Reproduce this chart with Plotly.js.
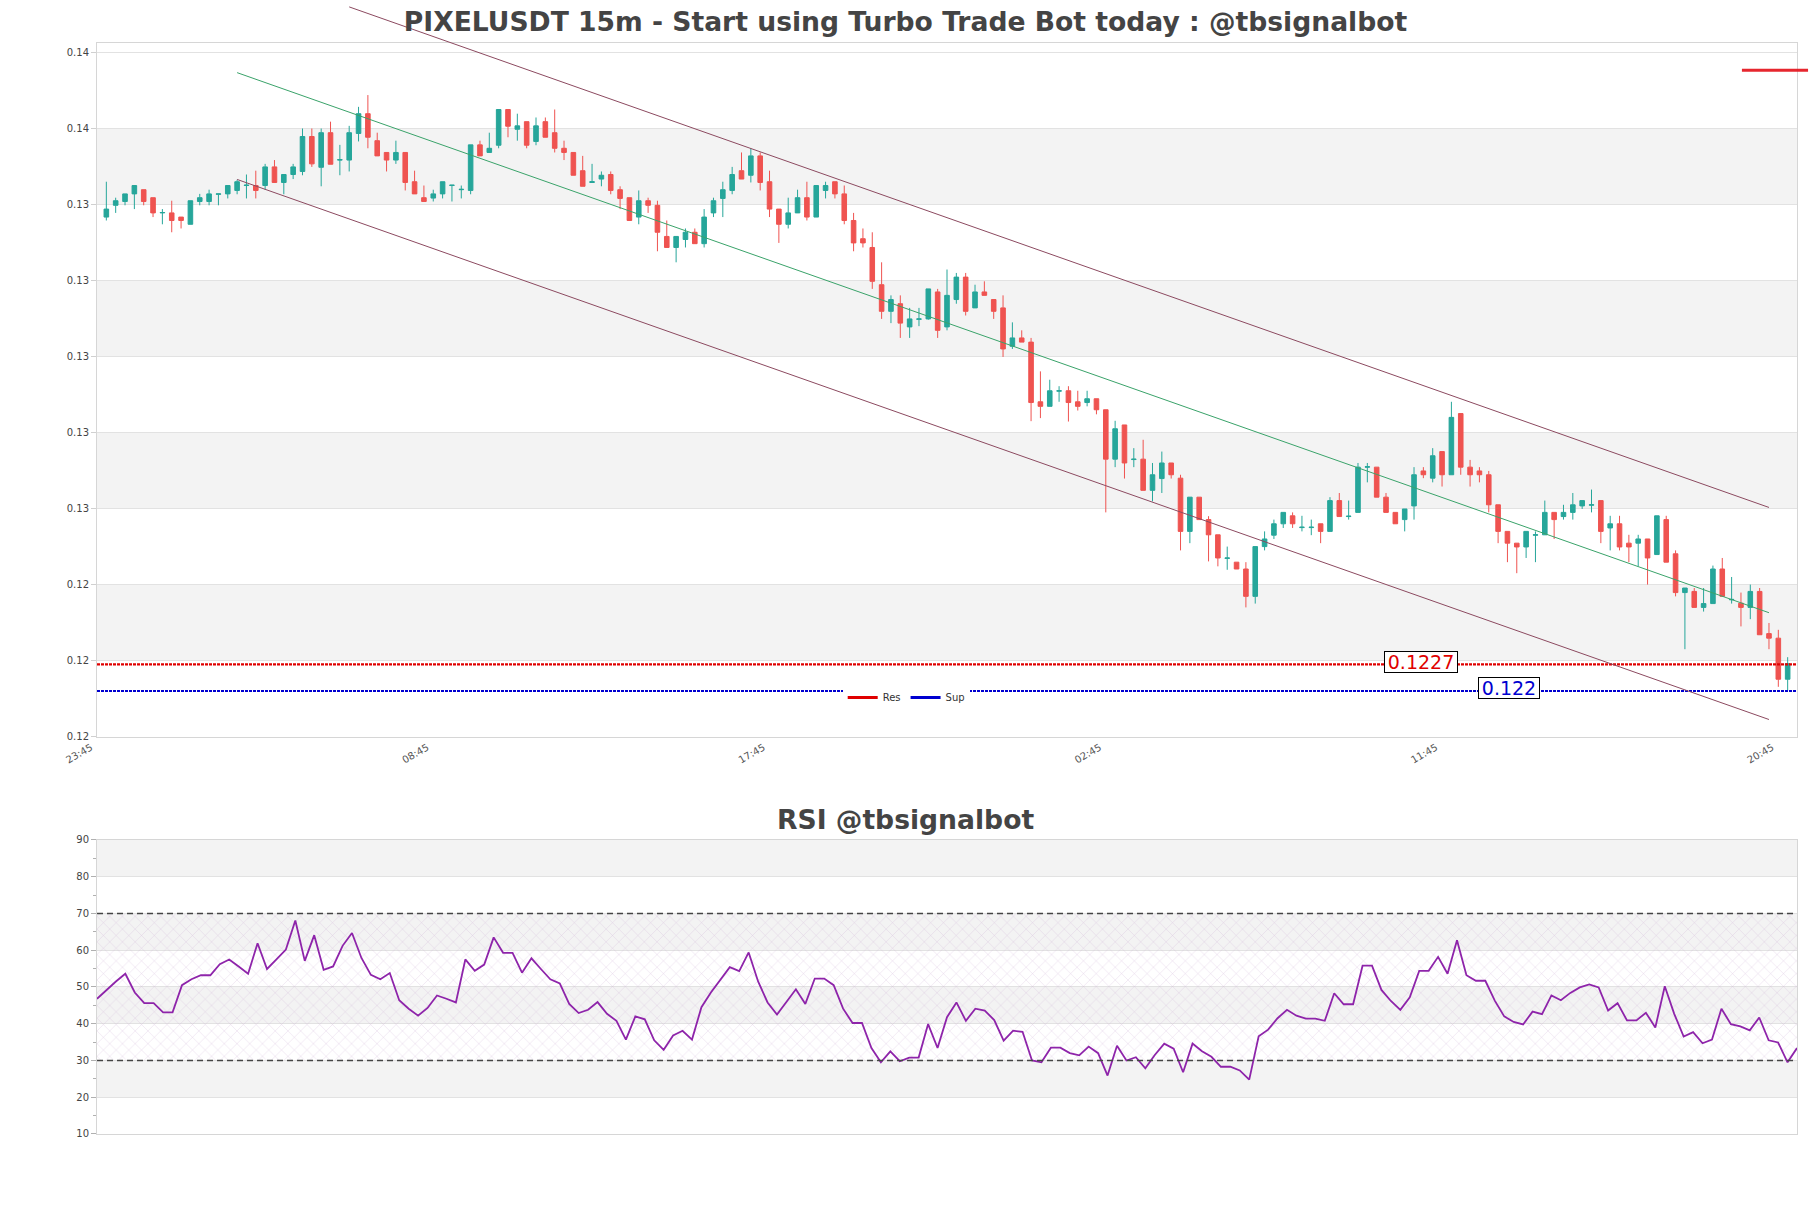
<!DOCTYPE html>
<html><head><meta charset="utf-8">
<script src="https://cdn.plot.ly/plotly-3.0.1.min.js"></script>
<style>html,body{margin:0;padding:0;background:#fff;}#chart{width:1811px;height:1208px;}</style>
</head><body><div id="chart"></div>
<script>
// ---------------- data ----------------
const START_UTC = Date.UTC(2024, 8, 10, 0, 0);   // first candle 00:00
const STEP_MIN = 15;

const openP = [
0.13447,0.13478,0.13488,0.13508,0.13519,0.13498,0.13458,0.13458,0.13447,0.13428,
0.13488,0.13488,0.13507,0.13508,0.13517,0.13530,0.13530,0.13530,0.13579,0.13538,
0.13559,0.13567,0.13659,0.13578,0.13669,0.13597,0.13597,0.13667,0.13719,0.13648,
0.13617,0.13597,0.13617,0.13540,0.13498,0.13497,0.13508,0.13530,0.13519,0.13517,
0.13637,0.13617,0.13636,0.13730,0.13678,0.13698,0.13646,0.13698,0.13669,0.13628,
0.13617,0.13569,0.13538,0.13547,0.13559,0.13519,0.13498,0.13447,0.13490,0.13478,
0.13396,0.13367,0.13388,0.13407,0.13377,0.13458,0.13496,0.13517,0.13569,0.13557,
0.13608,0.13540,0.13468,0.13428,0.13458,0.13498,0.13447,0.13517,0.13540,0.13508,
0.13438,0.13390,0.13367,0.13269,0.13199,0.13219,0.13158,0.13178,0.13179,0.13250,
0.13158,0.13230,0.13289,0.13208,0.13250,0.13230,0.13208,0.13107,0.13129,0.13118,
0.12961,0.12949,0.12989,0.12990,0.12961,0.12959,0.12969,0.12940,0.12810,0.12900,
0.12809,0.12810,0.12728,0.12759,0.12800,0.12760,0.12620,0.12710,0.12651,0.12611,
0.12549,0.12539,0.12521,0.12449,0.12580,0.12610,0.12640,0.12661,0.12630,0.12630,
0.12640,0.12620,0.12701,0.12659,0.12670,0.12789,0.12789,0.12710,0.12670,0.12651,
0.12687,0.12779,0.12760,0.12830,0.12769,0.12930,0.12789,0.12779,0.12769,0.12690,
0.12620,0.12589,0.12579,0.12610,0.12611,0.12670,0.12659,0.12670,0.12687,0.12689,
0.12701,0.12629,0.12640,0.12589,0.12589,0.12600,0.12559,0.12651,0.12561,0.12459,
0.12462,0.12420,0.12430,0.12521,0.12440,0.12431,0.12420,0.12462,0.12351,0.12339,
0.12231];
const highP = [
0.13540,0.13498,0.13508,0.13530,0.13519,0.13498,0.13468,0.13490,0.13447,0.13490,
0.13508,0.13519,0.13508,0.13530,0.13545,0.13559,0.13569,0.13587,0.13597,0.13559,
0.13587,0.13680,0.13680,0.13680,0.13698,0.13637,0.13687,0.13737,0.13768,0.13669,
0.13617,0.13648,0.13617,0.13569,0.13530,0.13519,0.13540,0.13531,0.13530,0.13637,
0.13648,0.13669,0.13730,0.13730,0.13719,0.13698,0.13709,0.13709,0.13730,0.13648,
0.13617,0.13608,0.13587,0.13567,0.13567,0.13528,0.13498,0.13517,0.13498,0.13490,
0.13438,0.13396,0.13417,0.13417,0.13468,0.13498,0.13540,0.13579,0.13617,0.13628,
0.13617,0.13569,0.13468,0.13498,0.13519,0.13540,0.13530,0.13540,0.13540,0.13530,
0.13458,0.13417,0.13407,0.13328,0.13241,0.13241,0.13208,0.13208,0.13258,0.13258,
0.13309,0.13300,0.13300,0.13269,0.13278,0.13230,0.13241,0.13170,0.13149,0.13129,
0.13041,0.13019,0.13002,0.13002,0.12990,0.12990,0.12969,0.12940,0.12911,0.12900,
0.12839,0.12861,0.12800,0.12830,0.12800,0.12769,0.12710,0.12710,0.12660,0.12611,
0.12580,0.12539,0.12539,0.12580,0.12620,0.12651,0.12670,0.12670,0.12661,0.12651,
0.12640,0.12710,0.12721,0.12701,0.12800,0.12800,0.12789,0.12721,0.12670,0.12679,
0.12789,0.12789,0.12839,0.12830,0.12961,0.12930,0.12808,0.12789,0.12779,0.12690,
0.12620,0.12589,0.12620,0.12620,0.12701,0.12670,0.12690,0.12721,0.12701,0.12730,
0.12701,0.12661,0.12661,0.12611,0.12611,0.12600,0.12661,0.12661,0.12570,0.12471,
0.12471,0.12471,0.12530,0.12550,0.12500,0.12459,0.12480,0.12471,0.12379,0.12361,
0.12289];
const lowP = [
0.13438,0.13458,0.13478,0.13468,0.13478,0.13447,0.13428,0.13407,0.13417,0.13428,
0.13478,0.13478,0.13478,0.13496,0.13507,0.13496,0.13496,0.13519,0.13538,0.13507,
0.13547,0.13557,0.13579,0.13528,0.13586,0.13557,0.13567,0.13646,0.13628,0.13608,
0.13567,0.13587,0.13517,0.13508,0.13488,0.13488,0.13496,0.13488,0.13496,0.13507,
0.13608,0.13617,0.13628,0.13657,0.13648,0.13628,0.13636,0.13657,0.13617,0.13597,
0.13557,0.13528,0.13538,0.13528,0.13507,0.13468,0.13438,0.13428,0.13458,0.13357,
0.13367,0.13328,0.13367,0.13377,0.13367,0.13447,0.13447,0.13507,0.13547,0.13538,
0.13517,0.13447,0.13379,0.13417,0.13458,0.13438,0.13447,0.13496,0.13496,0.13428,
0.13357,0.13367,0.13258,0.13179,0.13168,0.13129,0.13129,0.13160,0.13177,0.13129,
0.13149,0.13219,0.13188,0.13208,0.13241,0.13179,0.13079,0.13100,0.13118,0.12910,
0.12918,0.12949,0.12961,0.12909,0.12938,0.12949,0.12928,0.12670,0.12789,0.12759,
0.12789,0.12728,0.12699,0.12721,0.12759,0.12570,0.12589,0.12651,0.12541,0.12528,
0.12519,0.12521,0.12420,0.12430,0.12570,0.12600,0.12629,0.12629,0.12620,0.12610,
0.12589,0.12620,0.12659,0.12651,0.12670,0.12749,0.12710,0.12670,0.12640,0.12620,
0.12651,0.12760,0.12749,0.12738,0.12769,0.12769,0.12738,0.12749,0.12670,0.12589,
0.12539,0.12510,0.12550,0.12539,0.12611,0.12600,0.12651,0.12651,0.12679,0.12670,
0.12589,0.12570,0.12570,0.12539,0.12528,0.12480,0.12559,0.12539,0.12449,0.12310,
0.12420,0.12409,0.12430,0.12449,0.12430,0.12370,0.12389,0.12348,0.12310,0.12211,
0.12201];
const closeP = [
0.13468,0.13490,0.13508,0.13530,0.13488,0.13458,0.13459,0.13438,0.13438,0.13490,
0.13498,0.13508,0.13508,0.13530,0.13540,0.13531,0.13517,0.13579,0.13538,0.13559,
0.13579,0.13659,0.13587,0.13669,0.13586,0.13598,0.13669,0.13719,0.13657,0.13608,
0.13597,0.13617,0.13538,0.13508,0.13488,0.13508,0.13540,0.13531,0.13520,0.13637,
0.13608,0.13628,0.13730,0.13686,0.13687,0.13636,0.13687,0.13657,0.13628,0.13617,
0.13557,0.13528,0.13540,0.13557,0.13517,0.13496,0.13438,0.13490,0.13478,0.13407,
0.13367,0.13396,0.13407,0.13377,0.13447,0.13490,0.13519,0.13559,0.13547,0.13608,
0.13538,0.13468,0.13428,0.13458,0.13498,0.13447,0.13530,0.13530,0.13508,0.13438,
0.13379,0.13379,0.13278,0.13199,0.13230,0.13168,0.13179,0.13179,0.13258,0.13149,
0.13241,0.13289,0.13199,0.13250,0.13241,0.13199,0.13100,0.13129,0.13118,0.12959,
0.12949,0.12990,0.12990,0.12959,0.12949,0.12969,0.12940,0.12810,0.12890,0.12800,
0.12810,0.12728,0.12769,0.12800,0.12769,0.12620,0.12710,0.12651,0.12611,0.12550,
0.12550,0.12521,0.12449,0.12580,0.12600,0.12640,0.12670,0.12640,0.12631,0.12631,
0.12620,0.12701,0.12659,0.12660,0.12789,0.12790,0.12710,0.12670,0.12640,0.12679,
0.12769,0.12769,0.12819,0.12769,0.12920,0.12789,0.12769,0.12769,0.12690,0.12620,
0.12589,0.12579,0.12620,0.12611,0.12670,0.12651,0.12670,0.12690,0.12701,0.12690,
0.12620,0.12640,0.12579,0.12579,0.12600,0.12550,0.12661,0.12539,0.12459,0.12471,
0.12420,0.12430,0.12521,0.12449,0.12441,0.12420,0.12462,0.12348,0.12339,0.12231,
0.12272];

const rsiValues = [
46.8,49.2,51.5,53.6,48.5,45.6,45.6,43.1,43.1,50.5,52.1,53.2,53.2,56.2,57.5,55.6,53.6,61.9,54.9,57.5,
60.2,68.1,57.1,64.1,54.7,55.6,61.2,64.7,57.9,53.3,52.1,53.8,46.4,44.1,42.2,44.3,47.7,46.8,45.8,57.5,
54.4,56.1,63.5,59.3,59.3,53.9,57.8,
54.9,52.1,51.0,45.4,42.9,43.8,45.9,42.7,40.8,35.7,42.0,41.2,35.5,32.9,36.8,38.1,35.7,44.5,48.5,51.8,
55.4,54.3,59.4,51.5,45.8,42.5,45.9,49.4,45.4,52.3,52.3,50.5,44.1,40.2,40.2,33.4,29.5,32.5,29.8,30.8,
30.8,39.9,33.4,41.8,45.8,
40.8,44.1,43.6,41.0,35.4,38.1,37.8,30.0,29.5,33.5,33.5,32.0,31.4,33.8,32.0,25.9,34.0,30.0,30.9,27.9,
31.5,34.6,33.2,26.8,34.6,32.5,31.0,28.3,28.3,27.3,24.8,36.6,38.4,41.5,43.8,42.2,41.4,41.4,40.8,48.3,
45.3,45.3,55.8,55.8,49.2,46.2,
43.8,47.2,54.4,54.4,58.2,53.6,62.7,53.2,51.7,51.7,46.3,42.0,40.5,39.8,43.3,42.6,47.7,46.4,48.4,49.9,
50.7,49.9,43.6,45.6,40.9,40.9,43.0,39.0,50.2,42.7,36.5,37.7,34.7,35.7,44.1,39.9,39.3,38.2,41.7,35.5,
34.9,29.5,33.4];

const resLevel = [0.1227];
const supLevel = [0.122];
const resLabel = ['0.1227'];
const supLabel = ['0.122'];
const legendNames = ['Res', 'Sup'];

// regression channel (candle index, price)
const chanIdx   = [14, 178];
const upperIdx  = [26, 178];
const chanMid   = [0.13827, 0.12406];
const chanUpper = [0.14000, 0.12683];
const chanLower = [0.13546, 0.12125];
const markLevel = [0.13833];

const xTickTimes  = ['2024-09-09 23:45','2024-09-10 08:45','2024-09-10 17:45','2024-09-11 02:45','2024-09-11 11:45','2024-09-11 20:45'];
const xTickLabels = ['23:45','08:45','17:45','02:45','11:45','20:45'];
const rsiBounds = [30, 70];

const mainTitle = 'PIXELUSDT 15m - Start using Turbo Trade Bot today : @tbsignalbot';
const rsiTitle  = 'RSI @tbsignalbot';

// ---------------- build ----------------
const stepMs = STEP_MIN * 60000;
const iso = ms => new Date(ms).toISOString().slice(0, 16).replace('T', ' ');
const times = openP.map((_, i) => iso(START_UTC + i * stepMs));
const n = times.length;
const xMin = iso(START_UTC - stepMs), xMax = iso(START_UTC + n * stepMs);

const Y0 = 0.12079, DY = 0.002;
const yRange = [Y0 - 1e-7, 0.13905];
const dMain = [0.35009, 0.96208];
const dRsi = [0, 0.25926];
const y3Top = yRange[0] + (yRange[1] - yRange[0]) * (1 - dMain[0]) / (dMain[1] - dMain[0]);

const GREEN = '#26a69a', RED = '#ef5350';
const RESC = '#e00000', SUPC = '#0000d0';
const chanCol = '#8c4a60';
const tickFont = {family: 'DejaVu Sans', size: 10, color: '#444'};

const traces = [
  {type: 'candlestick', x: times, open: openP, high: highP, low: lowP, close: closeP,
   xaxis: 'x', yaxis: 'y', showlegend: false, whiskerwidth: 0, hoverinfo: 'skip',
   increasing: {line: {color: GREEN, width: 1}, fillcolor: GREEN},
   decreasing: {line: {color: RED, width: 1}, fillcolor: RED}},
  {type: 'scatter', mode: 'lines', showlegend: false, x: [xMin, xMax], y: [resLevel[0], resLevel[0]],
   xaxis: 'x', yaxis: 'y', line: {color: RESC, width: 2.2, dash: '3px,1px'}},
  {type: 'scatter', mode: 'lines', showlegend: false, x: [xMin, xMax], y: [supLevel[0], supLevel[0]],
   xaxis: 'x', yaxis: 'y', line: {color: SUPC, width: 2.2, dash: '3px,1px'}},
  // legend entries (solid glyphs like the reference)
  {type: 'scatter', mode: 'lines', name: legendNames[0], x: [null], y: [null], xaxis: 'x', yaxis: 'y',
   line: {color: RESC, width: 3}},
  {type: 'scatter', mode: 'lines', name: legendNames[1], x: [null], y: [null], xaxis: 'x', yaxis: 'y',
   line: {color: SUPC, width: 3}},
  {type: 'scatter', mode: 'lines', showlegend: false, x: upperIdx.map(i => times[i]), y: chanUpper,
   xaxis: 'x3', yaxis: 'y3', line: {color: chanCol, width: 1}},
  {type: 'scatter', mode: 'lines', showlegend: false, x: chanIdx.map(i => times[i]), y: chanMid,
   xaxis: 'x3', yaxis: 'y3', line: {color: '#3aa36a', width: 1}},
  {type: 'scatter', mode: 'lines', showlegend: false, x: chanIdx.map(i => times[i]), y: chanLower,
   xaxis: 'x3', yaxis: 'y3', line: {color: chanCol, width: 1}},
  {type: 'scatter', mode: 'lines', showlegend: false, hoverinfo: 'skip',
   x: [times[0], times[n-1], times[n-1], times[0]], y: [rsiBounds[0], rsiBounds[0], rsiBounds[1], rsiBounds[1]],
   xaxis: 'x2', yaxis: 'y2', fill: 'toself', line: {width: 0}, fillcolor: 'rgba(250,240,250,0.5)',
   fillpattern: {shape: 'x', fgcolor: 'rgba(195,160,205,0.6)', bgcolor: 'rgba(0,0,0,0)', size: 9, solidity: 0.08}},
  {type: 'scatter', mode: 'lines', showlegend: false, x: times, y: rsiValues,
   xaxis: 'x2', yaxis: 'y2', line: {color: '#8e24aa', width: 1.8}}
];

const shapes = [];
for (let k = 1; k < 9; k += 2) {
  shapes.push({type: 'rect', xref: 'x domain', yref: 'y', x0: 0, x1: 1, y0: Y0 + k * DY, y1: Y0 + (k + 1) * DY,
    fillcolor: '#f3f3f3', line: {width: 0}, layer: 'below'});
}
for (let v = 20; v < 90; v += 20) {
  shapes.push({type: 'rect', xref: 'x2 domain', yref: 'y2', x0: 0, x1: 1, y0: v, y1: v + 10,
    fillcolor: '#f3f3f3', line: {width: 0}, layer: 'below'});
}
rsiBounds.forEach(v => shapes.push({type: 'line', xref: 'x2 domain', yref: 'y2', x0: 0, x1: 1, y0: v, y1: v,
  line: {color: '#444', width: 1.3, dash: '6px,4px'}}));
shapes.push({type: 'line', xref: 'paper', yref: 'y', x0: 0.9676, x1: 1.0065, y0: markLevel[0], y1: markLevel[0],
  line: {color: 'rgba(228,20,28,0.92)', width: 3}});

const axisBase = {showline: true, mirror: true, linecolor: '#d6d6d6', linewidth: 1, zeroline: false};

const layout = {
  width: 1811, height: 1208,
  margin: {l: 97, r: 14, t: 0, b: 74, pad: 0},
  paper_bgcolor: '#ffffff', plot_bgcolor: 'rgba(0,0,0,0)',
  font: {family: 'DejaVu Sans', color: '#444'},
  title: {text: mainTitle, font: {family: 'DejaVu Sans', size: 26.6, color: '#444', weight: 'bold'},
          x: 0.5, xref: 'container', xanchor: 'center', y: 1 - 22 / 1208, yref: 'container', yanchor: 'middle'},
  showlegend: true,
  legend: {orientation: 'h', x: 0.476, xanchor: 'center', y: 0.385, yanchor: 'middle',
           bgcolor: '#ffffff', font: {family: 'DejaVu Sans', size: 10, color: '#333'}, itemwidth: 30, tracegroupgap: 0},
  xaxis: Object.assign({}, axisBase, {domain: [0, 1], anchor: 'y', type: 'date', range: [xMin, xMax],
    tickmode: 'array', tickvals: xTickTimes, ticktext: xTickLabels, tickangle: -30, ticklabelshift: -6,
    tickfont: {family: 'DejaVu Sans', size: 10, color: '#555'}, showgrid: false, ticks: '',
    rangeslider: {visible: false}, fixedrange: true}),
  yaxis: Object.assign({}, axisBase, {domain: dMain, anchor: 'x', range: yRange,
    tickmode: 'linear', tick0: Y0, dtick: DY, tickformat: '.2f', showgrid: true, gridcolor: '#e2e2e2',
    ticks: 'outside', ticklen: 5, tickcolor: '#d0d0d0', tickfont: tickFont}),
  xaxis2: Object.assign({}, axisBase, {domain: [0, 1], anchor: 'y2', type: 'date', range: [times[0], times[n-1]],
    showticklabels: false, showgrid: false, ticks: ''}),
  yaxis2: Object.assign({}, axisBase, {domain: dRsi, anchor: 'x2', range: [10, 90],
    tickmode: 'linear', tick0: 10, dtick: 10, showgrid: true, gridcolor: '#e2e2e2',
    ticks: 'outside', ticklen: 5, tickcolor: '#b0b0b0', tickfont: tickFont,
    minor: {dtick: 5, tick0: 5, ticks: 'outside', ticklen: 3, tickcolor: '#b0b0b0', showgrid: false}}),
  xaxis3: {domain: [0, 1], anchor: 'y3', type: 'date', range: [xMin, xMax], visible: false, showgrid: false, zeroline: false},
  yaxis3: {domain: [dMain[0], 1], anchor: 'x3', range: [yRange[0], y3Top], visible: false, showgrid: false, zeroline: false},
  shapes: shapes,
  annotations: [
    {text: resLabel[0], xref: 'paper', x: 0.779, xanchor: 'center', yref: 'y', y: resLevel[0], yanchor: 'middle', yshift: 2,
     showarrow: false, width: 72, height: 20,
     font: {family: 'DejaVu Sans', size: 19, color: RESC}, bgcolor: '#ffffff', bordercolor: '#000', borderwidth: 1, borderpad: 0},
    {text: supLabel[0], xref: 'paper', x: 0.8305, xanchor: 'center', yref: 'y', y: supLevel[0], yanchor: 'middle', yshift: 3,
     showarrow: false, width: 60, height: 20,
     font: {family: 'DejaVu Sans', size: 19, color: SUPC}, bgcolor: '#ffffff', bordercolor: '#000', borderwidth: 1, borderpad: 0},
    {text: '<b>' + rsiTitle + '</b>', xref: 'paper', x: 0.4753, yref: 'paper', y: 0.2769, yanchor: 'middle', showarrow: false,
     font: {family: 'DejaVu Sans', size: 26.6, color: '#444'}}
  ]
};

Plotly.newPlot('chart', traces, layout, {displayModeBar: false, staticPlot: true});
</script>
</body></html>
